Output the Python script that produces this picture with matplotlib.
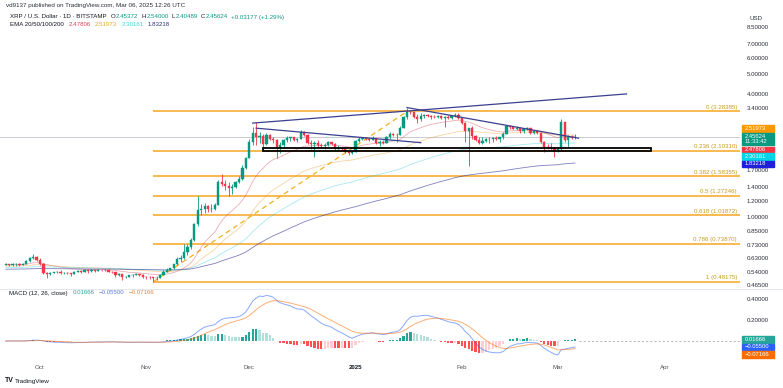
import matplotlib
matplotlib.use("Agg")
import matplotlib.pyplot as plt
import matplotlib.dates as mdates
import matplotlib.patches as mpatches
import matplotlib.transforms as mtransforms
import numpy as np
import pandas as pd

plt.rcParams['font.family'] = ['Liberation Sans', 'DejaVu Sans']

# daily XRP/USD candles, 2024-09-21 .. 2025-03-06
start_date = "2024-09-21"
first_open = 0.584
last_open = 2.45372

closes = [
    # Sep 21-30
    0.587, 0.585, 0.588, 0.589, 0.583, 0.590, 0.610, 0.628, 0.640, 0.615,
    # Oct
    0.590, 0.535, 0.525, 0.535, 0.536, 0.541, 0.532, 0.535, 0.530, 0.527,
    0.540, 0.546, 0.540, 0.551, 0.545, 0.551, 0.546, 0.551, 0.549, 0.552,
    0.541, 0.539, 0.521, 0.525, 0.506, 0.511, 0.518, 0.520, 0.525, 0.521, 0.510,
    # Nov
    0.509, 0.506, 0.502, 0.505, 0.522, 0.541, 0.552, 0.561, 0.586, 0.621,
    0.632, 0.672, 0.715, 0.770, 0.920, 1.080, 1.100, 1.130, 1.090, 1.100,
    1.145, 1.480, 1.450, 1.420, 1.390, 1.410, 1.480, 1.530, 1.740, 1.950,
    # Dec
    2.320, 2.580, 2.450, 2.480, 2.280, 2.520, 2.420, 2.380, 2.180, 2.260,
    2.370, 2.430, 2.450, 2.380, 2.420, 2.600, 2.520, 2.310, 2.280, 2.300,
    2.240, 2.220, 2.250, 2.340, 2.280, 2.160, 2.170, 2.160, 2.080, 2.050, 2.080,
    # Jan
    2.360, 2.420, 2.430, 2.410, 2.390, 2.430, 2.300, 2.330, 2.310, 2.450,
    2.560, 2.530, 2.520, 2.730, 3.080, 3.280, 3.250, 3.100, 3.020, 3.120,
    3.160, 3.130, 3.100, 3.080, 3.120, 3.050, 3.100, 3.060, 3.110, 3.160, 3.040,
    # Feb
    2.870, 2.630, 2.710, 2.480, 2.390, 2.300, 2.350, 2.410, 2.400, 2.430,
    2.420, 2.450, 2.560, 2.780, 2.770, 2.700, 2.730, 2.630, 2.690, 2.730,
    2.590, 2.620, 2.580, 2.340, 2.210, 2.200, 2.170, 2.130,
    # Mar 1-6
    2.150, 2.900, 2.380, 2.470, 2.42447, 2.45624,
]

highs = [
    0.593, 0.592, 0.596, 0.594, 0.595, 0.594, 0.615, 0.640, 0.656, 0.646,
    0.628, 0.595, 0.540, 0.540, 0.540, 0.545, 0.548, 0.540, 0.540, 0.535,
    0.543, 0.548, 0.548, 0.555, 0.556, 0.556, 0.553, 0.555, 0.553, 0.556,
    0.556, 0.545, 0.541, 0.530, 0.528, 0.515, 0.521, 0.524, 0.535, 0.528, 0.524,
    0.516, 0.512, 0.508, 0.512, 0.527, 0.552, 0.560, 0.566, 0.592, 0.640,
    0.650, 0.735, 0.740, 0.790, 0.935, 1.260, 1.160, 1.170, 1.150, 1.160,
    1.170, 1.520, 1.630, 1.520, 1.480, 1.450, 1.500, 1.580, 1.800, 1.960,
    2.400, 2.760, 2.900, 2.600, 2.550, 2.580, 2.560, 2.460, 2.420, 2.330,
    2.400, 2.480, 2.470, 2.470, 2.440, 2.660, 2.640, 2.560, 2.390, 2.360,
    2.380, 2.290, 2.290, 2.360, 2.340, 2.290, 2.250, 2.200, 2.180, 2.130, 2.130,
    2.380, 2.470, 2.460, 2.460, 2.430, 2.480, 2.440, 2.370, 2.370, 2.480,
    2.600, 2.580, 2.590, 2.780, 3.120, 3.400, 3.350, 3.280, 3.200, 3.220,
    3.200, 3.200, 3.170, 3.170, 3.150, 3.140, 3.120, 3.150, 3.140, 3.210, 3.210,
    3.060, 2.900, 2.730, 2.800, 2.530, 2.450, 2.450, 2.440, 2.470, 2.450,
    2.480, 2.470, 2.600, 2.820, 2.820, 2.790, 2.780, 2.730, 2.720, 2.750,
    2.740, 2.640, 2.650, 2.590, 2.350, 2.270, 2.290, 2.180,
    2.210, 3.000, 2.920, 2.510, 2.520, 2.540,
]

lows = [
    0.580, 0.576, 0.578, 0.579, 0.578, 0.580, 0.586, 0.605, 0.620, 0.606,
    0.580, 0.525, 0.505, 0.520, 0.530, 0.532, 0.528, 0.527, 0.525, 0.516,
    0.525, 0.537, 0.532, 0.538, 0.535, 0.541, 0.540, 0.543, 0.546, 0.545,
    0.537, 0.532, 0.510, 0.515, 0.494, 0.503, 0.508, 0.510, 0.518, 0.515, 0.505,
    0.500, 0.500, 0.482, 0.490, 0.502, 0.518, 0.536, 0.548, 0.558, 0.583,
    0.605, 0.620, 0.655, 0.700, 0.760, 0.905, 1.020, 1.050, 1.060, 1.060,
    1.080, 1.140, 1.420, 1.350, 1.270, 1.300, 1.390, 1.460, 1.520, 1.720,
    1.940, 2.250, 2.250, 2.300, 2.200, 2.250, 2.380, 2.300, 1.950, 2.050,
    2.180, 2.340, 2.360, 2.350, 2.330, 2.400, 2.480, 2.270, 2.150, 1.960,
    2.190, 2.170, 2.140, 2.220, 2.240, 2.120, 2.140, 2.130, 2.060, 2.020, 2.040,
    2.080, 2.330, 2.380, 2.380, 2.360, 2.370, 2.280, 2.220, 2.280, 2.300,
    2.420, 2.490, 2.330, 2.510, 2.720, 3.000, 3.180, 3.050, 2.870, 2.950,
    3.050, 3.080, 3.000, 3.040, 3.050, 3.030, 2.760, 3.020, 3.000, 3.070, 3.020,
    2.840, 2.330, 1.770, 2.400, 2.360, 2.280, 2.270, 2.330, 2.290, 2.340,
    2.380, 2.330, 2.420, 2.540, 2.700, 2.680, 2.660, 2.570, 2.590, 2.670,
    2.550, 2.550, 2.560, 2.300, 2.090, 2.140, 2.130, 1.960,
    2.080, 2.130, 2.340, 2.200, 2.400, 2.40489,
]

# EMA levels at the left edge of the chart (seeds)
ema_spans = [20, 50, 100, 200]
ema_seeds = [0.585, 0.575, 0.565, 0.555]
ema_colors = ["#d9485a", "#f0a030", "#26c6da", "#3a3a9a"]
ema_alpha = [0.45, 0.45, 0.4, 0.65]

# fibonacci retracement drawn from the Nov low to the Jan high
fib_levels = [0, 0.236, 0.382, 0.5, 0.618, 0.786, 1]
fib_prices = [3.28385, 2.10310, 1.58355, 1.27246, 1.01872, 0.73870, 0.48175]
fib_low_date = "2024-11-03"
fib_high_date = "2025-01-16"

# hand drawn trend lines: (date0, price0, date1, price1)
trend_lines = [
    ("2024-12-02", 2.88, "2025-03-21", 4.00),
    ("2024-12-03", 2.72, "2025-01-20", 2.31),
    ("2025-01-16", 3.43, "2025-03-07", 2.43),
]
box_dates = ("2024-12-05", "2025-03-28")
box_prices = (2.10, 2.18)

price_ticks = [8.5, 7, 6, 5, 4, 3.4, 1.7, 1.4, 1.2, 1.0, 0.85, 0.73, 0.63, 0.54, 0.465]
macd_ticks = [0.2, 0.4]
month_ticks = ["2024-10-01", "2024-11-01", "2024-12-01", "2025-01-01",
               "2025-02-01", "2025-03-01", "2025-04-01"]
month_labels = ["Oct", "Nov", "Dec", "2025", "Feb", "Mar", "Apr"]

GREEN = "#089981"
RED = "#f23645"
DARK = "#131722"
W, H = 783, 388


def fx(px):
    return px / W


def fy(py):
    return 1 - py / H


def ema(values, span, seed):
    alpha = 2.0 / (span + 1)
    out, e = [], seed
    for v in values:
        e = e + alpha * (v - e)
        out.append(e)
    return np.array(out)


dates = pd.date_range(start_date, periods=len(closes), freq="D")
x = mdates.date2num(dates)
c = np.array(closes)
h = np.array(highs)
l = np.array(lows)
o = np.r_[first_open, c[:-1]]
o[-1] = last_open
up = c >= o
cols = np.where(up, GREEN, RED)

fig = plt.figure(figsize=(W / 100, H / 100), dpi=100)
ax = fig.add_axes([0, fy(289), fx(740), fy(0) - fy(289)])
axm = fig.add_axes([0, fy(358), fx(740), fy(289) - fy(358)], sharex=ax)

oct1 = mdates.date2num(pd.Timestamp("2024-10-01"))
ppd = 3.43
xmin, xmax = oct1 + (0 - 40) / ppd, oct1 + (740 - 40) / ppd

# ---- price pane
ax.set_yscale("log")
k = 258 / np.log(8.5 / 0.465)
ax.set_ylim(np.exp(np.log(8.5) - 262 / k), np.exp(np.log(8.5) + 27 / k))
ax.set_xlim(xmin, xmax)

ax.axhline(c[-1], color="#b2b5be", lw=0.5, zorder=1)

# fib lines
fx0 = mdates.date2num(pd.Timestamp(fib_low_date))
fx1 = mdates.date2num(pd.Timestamp(fib_high_date))
blend = mtransforms.blended_transform_factory(ax.transAxes, ax.transData)
for lvl, p in zip(fib_levels, fib_prices):
    ax.plot([fx0, xmax], [p, p], color="#f5a623", lw=1.3, alpha=0.85,
            solid_capstyle="butt", zorder=2)
    ax.annotate(f"{lvl:g} ({p:.5f})", xy=(0.996, p), xycoords=blend,
                xytext=(0, 1.2), textcoords="offset points", ha="right",
                va="bottom", fontsize=4.4, color="#c99a1e")
ax.plot([fx0, fx1], [fib_prices[-1], fib_prices[0]], color="#f0b020",
        lw=0.9, ls=(0, (4, 3)), zorder=3)

# EMAs
for span, seed, col, a in zip(ema_spans, ema_seeds, ema_colors, ema_alpha):
    ax.plot(x, ema(c, span, seed), color=col, lw=0.6, alpha=a, zorder=3)

# candles
ax.vlines(x, l, h, colors=cols, lw=0.6, zorder=4)
ax.bar(x, np.abs(c - o), bottom=np.minimum(o, c), width=0.66, color=cols,
       edgecolor=cols, linewidth=0.3, zorder=5)

# trend lines and the box
for d0, p0, d1, p1 in trend_lines:
    ax.plot(mdates.date2num([pd.Timestamp(d0), pd.Timestamp(d1)]), [p0, p1],
            color="#3b3f8f", lw=0.9, zorder=6)
bx0, bx1 = mdates.date2num([pd.Timestamp(d) for d in box_dates])
ax.add_patch(mpatches.Rectangle((bx0, box_prices[0]), bx1 - bx0,
                                box_prices[1] - box_prices[0], fill=False,
                                edgecolor="black", lw=1.3, zorder=6))

ax.yaxis.tick_right()
ax.set_yticks(price_ticks)
ax.set_yticklabels([f"{t:.5f}" for t in price_ticks])
ax.yaxis.set_minor_locator(matplotlib.ticker.NullLocator())
ax.tick_params(axis="y", length=0, pad=5, labelsize=4.4, labelcolor="#2a2e39")
ax.tick_params(axis="x", bottom=False, labelbottom=False)
for s in ax.spines.values():
    s.set_visible(False)

# ---- MACD pane
m_fast = pd.Series(c).ewm(span=12, adjust=False).mean()
m_slow = pd.Series(c).ewm(span=26, adjust=False).mean()
macd = (m_fast - m_slow).values
signal = pd.Series(macd).ewm(span=9, adjust=False).mean().values
hist = macd - signal
prev = np.r_[hist[0], hist[:-1]]
hcols = np.where(hist >= 0,
                 np.where(hist >= prev, "#26a69a", "#b2dfdb"),
                 np.where(hist < prev, "#ff5252", "#ffcdd2"))
axm.bar(x, hist, width=0.66, color=hcols, zorder=2)
axm.plot(x, macd, color="#2962ff", lw=0.7, alpha=0.55, zorder=3)
axm.plot(x, signal, color="#ff6d00", lw=0.7, alpha=0.55, zorder=3)
axm.plot([x[-1] + 1, xmax], [0, 0], color="#9598a1", lw=0.5, ls=(0, (3, 3)))
axm.set_ylim(-17 / 105, 52 / 105)
axm.yaxis.tick_right()
axm.set_yticks(macd_ticks)
axm.set_yticklabels([f"{t:.5f}" for t in macd_ticks])
axm.tick_params(axis="y", length=0, pad=5, labelsize=4.4, labelcolor="#2a2e39")
axm.set_xticks(mdates.date2num([pd.Timestamp(d) for d in month_ticks]))
axm.set_xticklabels(month_labels)
axm.tick_params(axis="x", length=0, pad=5, labelsize=4.4, labelcolor="#50535e")
for t in axm.get_xticklabels():
    if t.get_text() == "2025":
        t.set_fontweight("bold")
        t.set_color(DARK)
for s in axm.spines.values():
    s.set_visible(False)

fig.add_artist(plt.Line2D([0, 1], [fy(289), fy(289)], color="#e0e3eb", lw=0.6,
                          transform=fig.transFigure))

# ---- texts
renderer = fig.canvas.get_renderer()


def pieces(px, py, parts, size=4.4):
    for text, col, gap in parts:
        t = fig.text(fx(px), fy(py), text, color=col, fontsize=size,
                     va="center", ha="left")
        bb = t.get_window_extent(renderer)
        px = bb.x1 + gap


pieces(6, 6, [("vd9137 published on TradingView.com, Mar 06, 2025 12:26 UTC",
               "#2a2e39", 0)], size=4.5)
pieces(10, 17, [("XRP / U.S. Dollar · 1D · BITSTAMP", DARK, 4.5),
                ("O", DARK, 0), ("2.45372", GREEN, 3.5),
                ("H", DARK, 0), ("2.54000", GREEN, 3.5),
                ("L", DARK, 0), ("2.40489", GREEN, 3.5),
                ("C", DARK, 0), ("2.45624", GREEN, 3.5),
                ("+0.03177 (+1.29%)", GREEN, 0)])
pieces(10, 25, [("EMA 20/50/100/200", DARK, 5),
                ("2.47806", "#e0405a", 4), ("2.51973", "#f0a830", 4),
                ("2.30161", "#4dd0e1", 4), ("1.83218", "#30307a", 0)])
pieces(9, 293, [("MACD (12, 26, close)", DARK, 5),
                ("0.01666", "#26a69a", 4), ("\u22120.05500", "#5b7be0", 4),
                ("\u22120.07166", "#f08030", 0)])

fig.text(fx(749), fy(18), "USD", fontsize=4.4, color="#2a2e39", va="center")

# coloured value tags on the right scale
tags = [
    ("2.51973", "#ff9800", 128.5, 6),
    ("2.45624\n11:33:42", GREEN, 139, 12),
    ("2.47806", RED, 149.5, 6),
    ("2.30161", "#00d5e8", 156.5, 6),
    ("1.83218", "#1f1fe0", 163.5, 6),
    ("0.01666", "#26a69a", 339.5, 6.5),
    ("\u22120.05500", "#2962ff", 347, 6.5),
    ("\u22120.07166", "#ff6d00", 354.5, 6.5),
]
for text, col, yc, hh in tags:
    fig.add_artist(mpatches.Rectangle((fx(742), fy(yc + hh / 2)), fx(32), hh / H,
                                      transform=fig.transFigure, color=col,
                                      zorder=10))
    fig.text(fx(745), fy(yc), text, color="white", fontsize=4.2, va="center",
             ha="left", zorder=11, linespacing=1.0)

fig.text(fx(5), fy(381), "TV", fontsize=5, fontweight="bold", color=DARK,
         va="center")
fig.text(fx(15), fy(381), "TradingView", fontsize=4.6, color=DARK, va="center")

fig.savefig("out.png", dpi=100)
